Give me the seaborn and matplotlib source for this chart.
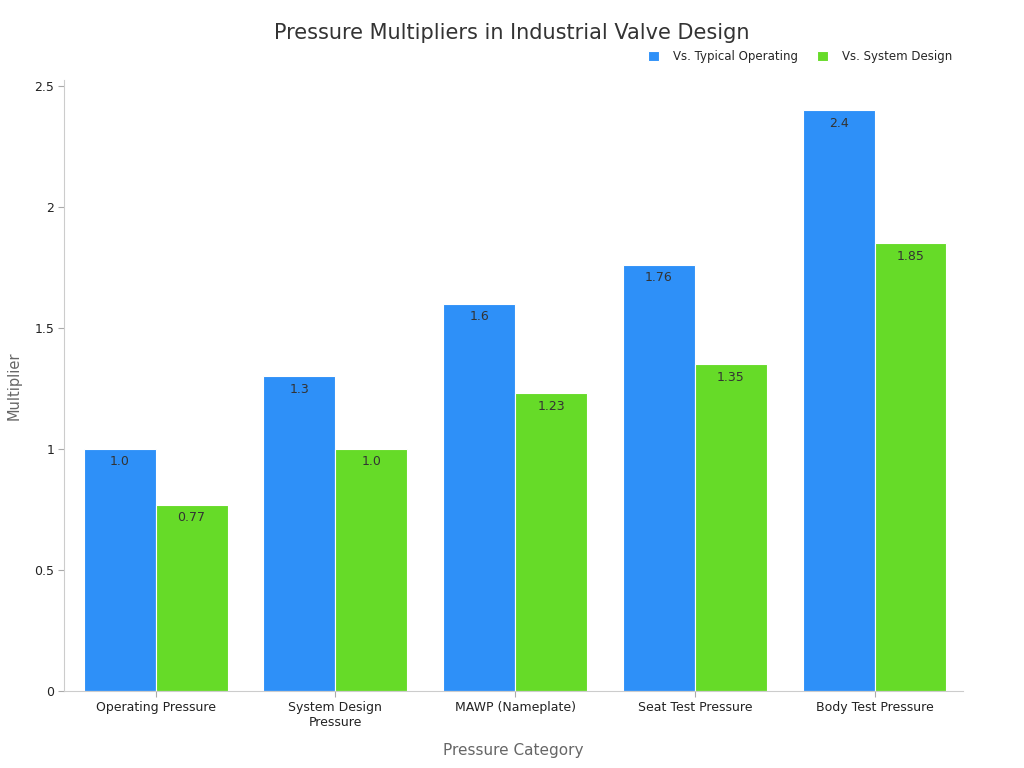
import pandas as pd
import seaborn as sns
import matplotlib.pyplot as plt

categories = ["Operating Pressure", "System Design\nPressure", "MAWP (Nameplate)",
              "Seat Test Pressure", "Body Test Pressure"]
vs_operating = [1.0, 1.3, 1.6, 1.76, 2.4]
vs_design = [0.77, 1.0, 1.23, 1.35, 1.85]
labels_operating = ["1.0", "1.3", "1.6", "1.76", "2.4"]
labels_design = ["0.77", "1.0", "1.23", "1.35", "1.85"]
series = ["Vs. Typical Operating", "Vs. System Design"]
colors = ["#2E90F8", "#66DB28"]

df = pd.DataFrame({
    "Pressure Category": categories * 2,
    "Multiplier": vs_operating + vs_design,
    "Series": [series[0]] * 5 + [series[1]] * 5,
})

sns.set_style("white")
plt.rcParams["font.family"] = ["DejaVu Sans"]
fig = plt.figure(figsize=(10.24, 7.68), dpi=100)
ax = fig.add_axes([0.0625, 0.1003, 0.8775, 0.7957])

sns.barplot(data=df, x="Pressure Category", y="Multiplier", hue="Series",
            palette=colors, saturation=1, width=0.8, edgecolor="white",
            linewidth=0.8, ax=ax)

for cont, labs in zip(ax.containers, [labels_operating, labels_design]):
    ax.bar_label(cont, labels=labs, padding=-14, fontsize=9, color="#333333")

ax.set_ylim(0, 2.525)
ax.set_xlim(-0.51, 4.49)
ax.set_yticks([0, 0.5, 1, 1.5, 2, 2.5])
ax.set_yticklabels(["0", "0.5", "1", "1.5", "2", "2.5"])
ax.tick_params(axis="both", left=True, bottom=True, labelsize=9,
               labelcolor="#222222", color="#aaaaaa", length=4, width=0.8, pad=3)
for s in ["top", "right"]:
    ax.spines[s].set_visible(False)
for s in ["left", "bottom"]:
    ax.spines[s].set_color("#cccccc")
    ax.spines[s].set_linewidth(0.8)

ax.set_xlabel("Pressure Category", fontsize=11, color="#666666", labelpad=10)
ax.set_ylabel("Multiplier", fontsize=10.5, color="#666666")
ax.yaxis.set_label_coords(-0.047, 0.5)
fig.text(0.5, 0.957, "Pressure Multipliers in Industrial Valve Design",
         ha="center", va="center", fontsize=15, color="#333333")

ax.legend(loc="lower right", bbox_to_anchor=(1.0, 1.01), ncol=2, frameon=False,
          fontsize=8.5, handlelength=0.9, handleheight=0.9, columnspacing=1.6,
          handletextpad=1.2)

fig.savefig("out.png", dpi=100)
